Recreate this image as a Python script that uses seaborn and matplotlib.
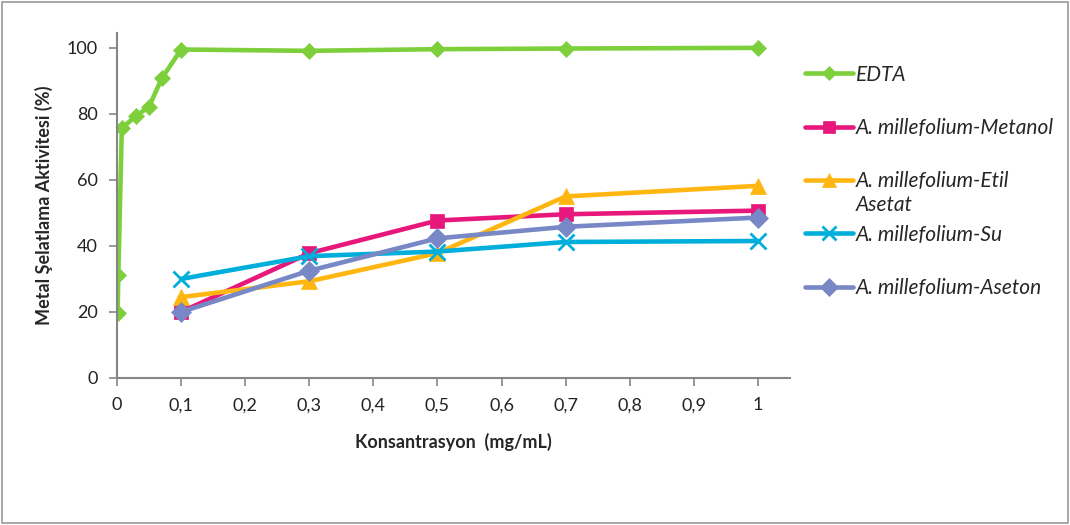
import matplotlib
matplotlib.use("Agg")
import matplotlib.pyplot as plt
import seaborn as sns
import pandas as pd
from matplotlib.lines import Line2D
from matplotlib.patches import Rectangle

sns.set_style("white")
plt.rcParams['font.family'] = ['Lato', 'DejaVu Sans']

# Data
edta_x = [0.001, 0.002, 0.0075, 0.03, 0.05, 0.07, 0.1, 0.3, 0.5, 0.7, 1.0]
edta_y = [19.6, 31.2, 75.7, 79.4, 82.2, 90.8, 99.5, 99.1, 99.6, 99.8, 100.0]
conc = [0.1, 0.3, 0.5, 0.7, 1.0]
metanol = [20.0, 37.8, 47.7, 49.6, 50.7]
etil = [24.5, 29.3, 37.8, 55.0, 58.2]
su = [30.0, 36.9, 38.3, 41.2, 41.5]
aseton = [20.0, 32.5, 42.3, 45.8, 48.6]

labels = ["EDTA", "A. millefolium-Metanol", "A. millefolium-Etil",
          "A. millefolium-Su", "A. millefolium-Aseton"]
label_extra = "Asetat"
colors = ["#7DCF3B", "#E8177B", "#FFB611", "#00AEDB", "#7887C5"]
markers = ["D", "s", "^", "x", "D"]
msizes = [8, 10, 11, 11, 10]

series = [(edta_x, edta_y), (conc, metanol), (conc, etil), (conc, su), (conc, aseton)]

fig = plt.figure(figsize=(10.7, 5.25), dpi=100)
ax = fig.add_axes([117/1070, 1-378/525, (790-117)/1070, (378-33)/525])

for (xs, ys), lab, c, m, ms in zip(series, labels, colors, markers, msizes):
    df = pd.DataFrame({"x": xs, "y": ys})
    sns.lineplot(data=df, x="x", y="y", ax=ax, color=c, marker=m, markersize=ms,
                 linewidth=3.3, markeredgecolor=c, markeredgewidth=2 if m == "x" else 0.5,
                 sort=False, estimator=None, legend=False)

ax.set_xlim(0, 1.05)
ax.set_ylim(0, 104.5)
ax.set_xticks([i / 10 for i in range(11)])
ax.set_xticklabels(["0", "0,1", "0,2", "0,3", "0,4", "0,5", "0,6", "0,7", "0,8", "0,9", "1"])
ax.set_yticks([0, 20, 40, 60, 80, 100])
ax.tick_params(axis="both", direction="out", length=6, width=1.2, color="#868686",
               labelsize=13, labelcolor="#222222", bottom=True, left=True, pad=8)
for s in ["top", "right"]:
    ax.spines[s].set_visible(False)
for s in ["left", "bottom"]:
    ax.spines[s].set_color("#868686")
    ax.spines[s].set_linewidth(1.5)

ax.set_xlabel("Konsantrasyon  (mg/mL)", fontsize=13, fontweight="bold", labelpad=14)
ax.set_ylabel("Metal Şelatlama Aktivitesi (%)", fontsize=13, fontweight="bold", labelpad=10)

handles = [Line2D([0], [0], color=c, marker=m, markersize=ms * 0.9, linewidth=3.3,
                  markeredgecolor=c, markeredgewidth=2 if m == "x" else 0.5)
           for c, m, ms in zip(colors, markers, msizes)]
leg = fig.legend(handles, labels, loc="upper left", bbox_to_anchor=(786/1070, 1-46/525),
                 frameon=False, handlelength=2.3, handletextpad=0.15,
                 labelspacing=1.6, prop={"style": "italic", "size": 15})

fig.canvas.draw()
t = leg.get_texts()[2]
bb = t.get_window_extent()
inv = fig.transFigure.inverted()
x0, y0 = inv.transform((bb.x0, bb.y0))
fig.text(x0, y0 - 4/525, label_extra, fontsize=15, style="italic", ha="left", va="top",
         color=t.get_color())

fig.patches.append(Rectangle((0.002, 0.003), 0.996, 0.994, transform=fig.transFigure,
                             fill=False, edgecolor="#9a9a9a", linewidth=1.2))

fig.savefig("out.png", dpi=100)
